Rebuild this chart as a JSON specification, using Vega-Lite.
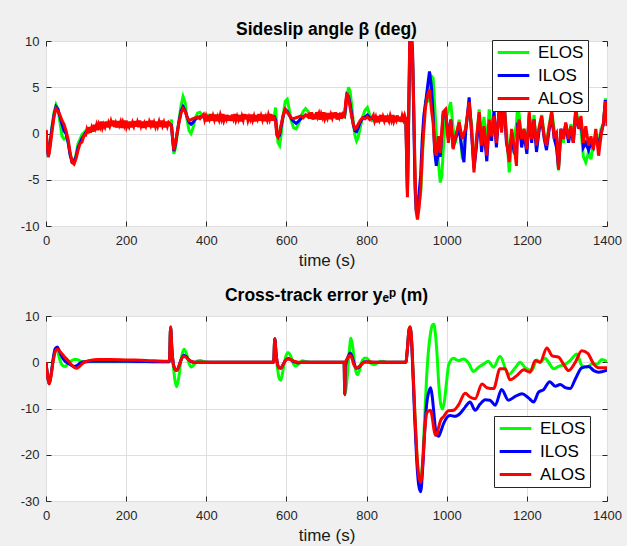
{
  "$schema": "https://vega.github.io/schema/vega-lite/v6.json",
  "background": "#f0f0f0",
  "padding": {"left": 19, "top": 20, "right": 5, "bottom": 5},
  "spacing": 17,
  "config": {
    "view": {"stroke": "#262626", "strokeWidth": 1, "fill": "white"},
    "axis": {
      "domain": false, "grid": true, "gridColor": "#dfdfdf", "tickColor": "#262626",
      "tickSize": -5, "labelFont": "Liberation Sans", "labelFontSize": 13, "labelColor": "#262626",
      "titleFont": "Liberation Sans", "titleFontSize": 17, "titleFontWeight": "normal", "titleColor": "#1a1a1a",
      "labelFlush": false, "labelOverlap": false, "labelExpr": "'' + datum.value"
    },
    "axisX": {"labelPadding": 13, "titlePadding": 5},
    "axisY": {"labelPadding": 12},
    "title": {"font": "Liberation Sans", "fontSize": 17.5, "fontWeight": "bold", "color": "#000000"}
  },
  "resolve": {"scale": {"color": "independent"}, "legend": {"color": "independent"}},
  "vconcat": [
    {
      "width": 561, "height": 185,
      "title": {"text": "Sideslip angle β (deg)", "offset": -3},
      "data": {"values": [
        {"t":0,"E":0.3,"I":0.3,"A":0.4},{"t":3,"E":-1.5,"I":-1.5,"A":-1.2},{"t":6,"E":-2.6,"I":-2.5,"A":-2.5},
        {"t":10,"E":-1.0,"I":-1.2,"A":-1.6},{"t":15,"E":0.8,"I":0.6,"A":0.2},{"t":20,"E":2.3,"I":2.0,"A":1.8},
        {"t":25,"E":3.1,"I":2.9,"A":2.7},{"t":30,"E":2.6,"I":2.6,"A":2.4},{"t":35,"E":1.2,"I":1.8,"A":2.0},
        {"t":40,"E":-0.3,"I":1.0,"A":1.4},{"t":45,"E":-0.6,"I":0.3,"A":1.0},{"t":50,"E":-0.4,"I":0.0,"A":0.3},
        {"t":55,"E":-0.9,"I":-0.9,"A":-0.6},{"t":60,"E":-2.2,"I":-2.3,"A":-2.0},{"t":65,"E":-3.0,"I":-3.1,"A":-3.1},
        {"t":70,"E":-3.0,"I":-3.0,"A":-3.3},{"t":75,"E":-2.3,"I":-2.5,"A":-2.7},{"t":80,"E":-1.1,"I":-1.5,"A":-1.8},
        {"t":85,"E":-0.6,"I":-1.0,"A":-1.1},{"t":90,"E":-0.1,"I":-0.5,"A":-0.9},{"t":95,"E":0.1,"I":-0.2,"A":-0.2},
        {"t":99,"E":0.3,"I":0.1,"A":-0.2},
        {"t":102,"A":0.4},{"t":105,"A":0.0},{"t":108,"A":0.7},{"t":111,"A":0.1},{"t":114,"A":0.6},{"t":117,"A":0.2},
        {"t":120,"E":0.6,"I":0.5,"A":0.95},{"t":123,"A":0.55},{"t":126,"A":0.95},{"t":129,"A":0.35},{"t":132,"A":1.0},
        {"t":135,"A":0.7},{"t":138,"A":1.3},{"t":141,"E":0.9,"I":0.8,"A":0.62},{"t":144,"A":1.0},{"t":147,"A":0.72},
        {"t":150,"A":1.3},{"t":153,"A":0.65},{"t":156,"A":1.15},{"t":159,"A":0.8},{"t":162,"E":1.0,"I":1.0,"A":1.3},
        {"t":165,"A":0.8},{"t":168,"A":1.4},{"t":171,"A":0.7},{"t":174,"A":1.1},{"t":177,"A":0.65},{"t":180,"A":1.35},
        {"t":183,"A":0.9},{"t":186,"A":1.25},{"t":189,"A":0.6},{"t":192,"A":1.2},{"t":195,"A":0.85},{"t":198,"A":1.4},
        {"t":201,"E":1.0,"I":1.0,"A":0.7},{"t":204,"A":1.05},{"t":207,"A":0.75},{"t":210,"A":1.3},{"t":213,"A":0.65},
        {"t":216,"A":1.15},{"t":219,"A":0.8},{"t":222,"A":1.35},{"t":225,"A":0.75},{"t":228,"A":1.2},{"t":231,"A":0.7},
        {"t":234,"A":1.4},{"t":237,"A":0.85},{"t":240,"A":1.3},{"t":243,"A":0.6},{"t":246,"A":1.1},{"t":249,"A":0.8},
        {"t":252,"E":1.0,"I":1.0,"A":1.35},{"t":255,"A":0.7},{"t":258,"A":1.25},{"t":261,"A":0.9},{"t":264,"A":1.4},
        {"t":267,"A":0.65},{"t":270,"A":1.15},{"t":273,"A":0.75},{"t":276,"A":1.3},{"t":279,"A":0.8},{"t":282,"A":1.25},
        {"t":285,"A":0.7},{"t":288,"A":1.4},{"t":291,"A":0.85},{"t":294,"A":1.2},{"t":297,"A":0.65},
        {"t":300,"E":1.0,"I":1.0,"A":1.3},{"t":303,"A":0.8},{"t":306,"A":1.2},
        {"t":310,"E":0.9,"I":1.0,"A":1.0},{"t":313,"E":1.5,"I":0.9,"A":0.8},{"t":316,"E":-0.5,"I":-0.6,"A":-0.5},
        {"t":319,"E":-2.2,"I":-1.9,"A":-1.8},{"t":323,"E":-1.6,"I":-1.2,"A":-1.0},{"t":327,"E":-0.3,"I":0.0,"A":0.0},
        {"t":332,"E":1.5,"I":1.3,"A":1.2},{"t":337,"E":3.0,"I":2.4,"A":2.2},{"t":342,"E":4.0,"I":2.9,"A":2.7},
        {"t":347,"E":3.4,"I":2.5,"A":2.4},{"t":352,"E":1.5,"I":1.8,"A":1.8},{"t":357,"E":0.3,"I":1.2,"A":1.4},
        {"t":362,"E":0.0,"I":1.0,"A":1.5},{"t":367,"E":0.6,"I":1.2,"A":1.6},{"t":372,"E":1.6,"I":1.5,"A":1.7},
        {"t":378,"E":2.2,"I":1.7,"A":1.8},{"t":384,"E":2.3,"I":1.8,"A":1.6},{"t":390,"E":2.0,"I":1.8,"A":1.9},
        {"t":393,"A":2.05},{"t":396,"A":1.45},{"t":399,"A":1.85},{"t":402,"E":2.0,"I":1.8,"A":1.3},{"t":405,"A":2.0},
        {"t":408,"A":1.6},{"t":411,"A":2.1},{"t":414,"A":1.4},{"t":417,"A":1.9},{"t":420,"E":1.9,"I":1.7,"A":1.5},
        {"t":423,"A":2.05},{"t":426,"A":1.35},{"t":429,"A":1.8},{"t":432,"A":1.45},{"t":435,"A":2.0},{"t":438,"A":1.55},
        {"t":441,"A":2.1},{"t":444,"A":1.4},{"t":447,"A":1.75},{"t":450,"A":1.5},{"t":453,"A":2.0},{"t":456,"A":1.4},
        {"t":459,"E":1.8,"I":1.7,"A":1.9},{"t":462,"A":1.35},{"t":465,"A":2.05},{"t":468,"A":1.6},{"t":471,"A":2.1},
        {"t":474,"A":1.45},{"t":477,"A":1.85},{"t":480,"A":1.5},{"t":483,"A":2.0},{"t":486,"A":1.3},{"t":489,"A":1.85},
        {"t":492,"A":1.45},{"t":495,"A":2.1},{"t":498,"A":1.55},{"t":501,"E":1.7,"I":1.7,"A":2.05},{"t":504,"A":1.4},
        {"t":507,"A":1.8},{"t":510,"A":1.5},{"t":513,"A":2.05},{"t":516,"A":1.45},{"t":519,"A":1.85},{"t":522,"A":1.3},
        {"t":525,"A":2.0},{"t":528,"A":1.6},{"t":531,"A":2.1},{"t":534,"A":1.4},{"t":537,"A":1.9},
        {"t":540,"E":1.7,"I":1.7,"A":1.5},{"t":543,"A":2.05},{"t":546,"A":1.35},{"t":549,"A":1.8},{"t":552,"A":1.45},
        {"t":555,"A":2.0},{"t":558,"A":1.55},{"t":561,"A":2.1},{"t":564,"E":1.7,"I":1.7,"A":1.4},{"t":567,"A":1.8},
        {"t":570,"E":2.0,"I":1.8,"A":1.7},{"t":573,"E":2.8,"I":1.5,"A":1.2},{"t":576,"E":0.5,"I":0.0,"A":-0.2},
        {"t":579,"E":-1.0,"I":-0.3,"A":-0.4},{"t":583,"E":-1.3,"I":-0.2,"A":0.2},{"t":587,"E":0.0,"I":0.8,"A":1.0},
        {"t":592,"E":2.0,"I":1.9,"A":2.0},{"t":597,"E":3.5,"I":2.6,"A":2.6},{"t":602,"E":3.7,"I":2.4,"A":2.3},
        {"t":607,"E":2.6,"I":2.0,"A":2.0},{"t":612,"E":1.4,"I":1.6,"A":1.7},{"t":618,"E":0.6,"I":1.3,"A":1.6},
        {"t":624,"E":0.5,"I":1.1,"A":1.7},{"t":630,"E":1.0,"I":1.3,"A":1.8},{"t":636,"E":1.8,"I":1.6,"A":1.9},
        {"t":642,"E":2.4,"I":1.8,"A":1.7},{"t":648,"E":2.7,"I":2.0,"A":2.0},{"t":654,"E":2.4,"I":1.9,"A":1.8},
        {"t":657,"A":2.25},{"t":660,"E":2.0,"I":1.9,"A":1.6},{"t":663,"A":2.3},{"t":666,"A":1.5},{"t":669,"A":2.1},
        {"t":672,"A":1.55},{"t":675,"A":2.3},{"t":678,"A":1.8},{"t":681,"A":2.15},{"t":684,"A":1.5},{"t":687,"A":2.1},
        {"t":690,"A":1.75},{"t":693,"A":2.3},{"t":696,"A":1.6},{"t":699,"E":1.9,"I":1.9,"A":1.95},{"t":702,"A":1.65},
        {"t":705,"A":2.2},{"t":708,"A":1.55},{"t":711,"A":2.05},{"t":714,"A":1.7},{"t":717,"A":2.25},{"t":720,"A":1.65},
        {"t":723,"A":2.3},{"t":726,"A":1.5},{"t":729,"A":2.2},{"t":732,"A":1.8},{"t":735,"A":2.25},{"t":738,"A":1.6},
        {"t":741,"E":1.9,"I":1.9,"A":2.1},
        {"t":745,"E":1.8,"I":1.9,"A":1.9},{"t":748,"E":2.5,"I":3.0,"A":3.5},{"t":751,"E":4.0,"I":4.2,"A":4.4},
        {"t":755,"E":5.0,"I":4.0,"A":3.8},{"t":759,"E":4.5,"I":3.2,"A":2.8},{"t":763,"E":3.0,"I":2.0,"A":1.8},
        {"t":767,"E":1.2,"I":0.9,"A":1.0},{"t":771,"E":-0.2,"I":0.3,"A":0.5},{"t":775,"E":-0.8,"I":0.2,"A":0.6},
        {"t":779,"E":-0.4,"I":0.6,"A":1.0},{"t":784,"E":0.6,"I":1.2,"A":1.4},{"t":790,"E":1.8,"I":1.6,"A":1.7},
        {"t":796,"E":2.5,"I":1.8,"A":1.6},{"t":802,"E":2.8,"I":2.0,"A":1.8},{"t":808,"E":2.0,"I":1.7,"A":1.5},
        {"t":814,"E":1.4,"I":1.6,"A":1.7},
        {"t":817,"A":1.95},{"t":820,"A":1.35},{"t":823,"A":1.75},{"t":826,"A":1.2},{"t":829,"E":1.6,"I":1.6,"A":1.9},
        {"t":832,"A":1.5},{"t":835,"A":2.0},{"t":838,"A":1.3},{"t":841,"A":1.8},{"t":844,"A":1.4},{"t":847,"A":1.95},
        {"t":850,"A":1.25},{"t":853,"A":1.7},{"t":856,"A":1.35},{"t":859,"E":1.6,"I":1.6,"A":1.9},{"t":862,"A":1.45},
        {"t":865,"A":2.0},{"t":868,"A":1.3},{"t":871,"A":1.65},{"t":874,"A":1.4},{"t":877,"A":1.95},{"t":880,"A":1.3},
        {"t":883,"A":1.8},{"t":886,"A":1.25},{"t":889,"A":1.9},{"t":892,"A":1.5},{"t":895,"A":1.95},
        {"t":898,"E":1.6,"I":1.6,"A":1.5},{"t":900,"E":-2.0,"I":-2.5,"A":-3.0},{"t":902,"E":-6.0,"I":-6.5,"A":-6.9},
        {"t":905,"E":1.0,"I":1.5,"A":2.0},{"t":908,"E":9.0,"I":10.5,"A":11.0},{"t":912,"E":10.0,"I":11.0,"A":11.0},
        {"t":915,"E":7.5,"I":8.5,"A":8.0},{"t":918,"E":3.0,"I":1.0,"A":2.0},{"t":921,"E":-5.0,"I":-6.0,"A":-4.0},
        {"t":924,"E":-8.2,"I":-8.4,"A":-8.5},{"t":927,"E":-8.5,"I":-8.0,"A":-9.3},{"t":931,"E":-7.5,"I":-6.5,"A":-8.0},
        {"t":935,"E":-6.5,"I":-4.5,"A":-6.0},{"t":939,"E":-3.0,"I":-0.5,"A":-2.0},{"t":943,"E":1.0,"I":2.0,"A":0.5},
        {"t":947,"E":3.5,"I":3.2,"A":2.8},{"t":952,"E":3.5,"I":5.0,"A":4.1},{"t":957,"E":4.0,"I":6.7,"A":4.8},
        {"t":962,"E":6.2,"I":5.0,"A":2.5},{"t":966,"E":6.0,"I":2.0,"A":1.2},{"t":970,"E":3.0,"I":-2.0,"A":-1.5},
        {"t":974,"E":0.0,"I":-3.5,"A":-2.4},{"t":979,"E":-3.0,"I":-2.0,"A":-0.3},{"t":984,"E":-5.3,"I":-2.5,"A":-2.1},
        {"t":988,"E":-4.5,"I":0.0,"A":0.5},{"t":991,"E":-2.0,"I":2.0,"A":2.3},{"t":997,"E":1.5,"I":2.4,"A":2.6},
        {"t":1004,"E":2.5,"I":-0.5,"A":-1.0},{"t":1010,"E":3.4,"I":1.5,"A":1.5},{"t":1016,"E":0.5,"I":-1.5,"A":-1.7},
        {"t":1022,"E":-1.0,"I":-0.5,"A":-0.3},{"t":1031,"E":1.5,"I":0.5,"A":1.2},{"t":1039,"E":-2.8,"I":-2.0,"A":-0.6},
        {"t":1043,"E":-1.5,"I":-3.1,"A":0.0},{"t":1047,"E":0.5,"I":0.0,"A":0.5},{"t":1056,"E":3.0,"I":3.9,"A":3.4},
        {"t":1062,"E":1.0,"I":0.0,"A":0.5},{"t":1068,"E":-3.5,"I":-3.8,"A":-4.2},{"t":1074,"E":-1.0,"I":-1.5,"A":-0.6},
        {"t":1081,"E":2.6,"I":2.0,"A":2.3},{"t":1087,"E":-0.5,"I":-2.0,"A":-1.3},{"t":1093,"E":1.8,"I":0.5,"A":0.8},
        {"t":1100,"E":-1.5,"I":-3.0,"A":-2.4},{"t":1106,"E":2.6,"I":1.0,"A":1.5},{"t":1112,"E":0.5,"I":-0.8,"A":-0.3},
        {"t":1118,"E":1.5,"I":2.5,"A":1.9},{"t":1124,"E":-0.5,"I":-1.5,"A":-1.0},{"t":1131,"E":2.0,"I":2.9,"A":2.6},
        {"t":1137,"E":1.0,"I":0.5,"A":0.1},{"t":1143,"E":3.0,"I":3.5,"A":3.7},{"t":1149,"E":0.5,"I":-1.0,"A":-0.6},
        {"t":1156,"E":-4.2,"I":-2.5,"A":-3.1},{"t":1162,"E":-1.0,"I":0.0,"A":0.5},{"t":1168,"E":-0.5,"I":-2.0,"A":-1.3},
        {"t":1174,"E":1.0,"I":-2.5,"A":-3.5},{"t":1177,"E":3.0,"I":1.0,"A":0.5},{"t":1181,"E":2.0,"I":1.0,"A":1.5},
        {"t":1187,"E":-1.0,"I":-1.5,"A":-0.6},{"t":1193,"E":0.5,"I":0.0,"A":0.5},{"t":1200,"E":-1.0,"I":-2.2,"A":-1.7},
        {"t":1206,"E":1.5,"I":2.0,"A":2.3},{"t":1212,"E":-0.5,"I":-1.0,"A":-0.6},{"t":1218,"E":2.0,"I":1.5,"A":1.5},
        {"t":1224,"E":-1.5,"I":-2.0,"A":-1.3},{"t":1231,"E":0.5,"I":0.5,"A":0.8},{"t":1237,"E":2.0,"I":1.5,"A":1.9},
        {"t":1243,"E":0.0,"I":-0.5,"A":-0.3},{"t":1249,"E":-1.0,"I":-1.8,"A":-1.3},{"t":1256,"E":1.0,"I":0.5,"A":0.8},
        {"t":1262,"E":2.5,"I":2.0,"A":2.3},{"t":1268,"E":0.5,"I":-0.5,"A":-0.3},{"t":1274,"E":-1.0,"I":-1.5,"A":0.1},
        {"t":1279,"E":-4.0,"I":-3.7,"A":-3.9},{"t":1285,"E":0.0,"I":0.5,"A":0.5},{"t":1291,"E":-1.0,"I":-0.5,"A":-0.6},
        {"t":1297,"E":1.0,"I":1.0,"A":1.2},{"t":1304,"E":-0.5,"I":-1.0,"A":-0.6},{"t":1310,"E":1.0,"I":0.5,"A":0.8},
        {"t":1316,"E":-0.5,"I":-1.0,"A":-1.0},{"t":1322,"E":2.8,"I":2.3,"A":2.6},{"t":1329,"E":1.0,"I":0.5,"A":0.5},
        {"t":1335,"E":0.5,"I":1.5,"A":1.9},{"t":1341,"E":-2.5,"I":-1.5,"A":-1.0},{"t":1347,"E":-3.1,"I":-1.0,"A":0.8},
        {"t":1354,"E":-2.0,"I":-1.8,"A":-1.3},{"t":1360,"E":-2.8,"I":-1.0,"A":-0.3},{"t":1366,"E":-1.0,"I":-1.5,"A":-1.7},
        {"t":1372,"E":-0.5,"I":0.0,"A":0.5},{"t":1379,"E":-1.0,"I":-1.5,"A":-2.4},{"t":1385,"E":0.5,"I":0.0,"A":-0.3},
        {"t":1391,"E":1.0,"I":1.0,"A":1.2},{"t":1396,"E":3.8,"I":3.6,"A":3.5},{"t":1400,"E":1.5,"I":1.2,"A":0.8}
      ]},
      "encoding": {
        "x": {"field": "t", "type": "quantitative", "scale": {"domain": [0, 1400], "nice": false},
              "axis": {"values": [0,200,400,600,800,1000,1200,1400], "title": "time (s)"}}
      },
      "resolve": {"axis": {"x": "independent", "y": "independent"}},
      "layer": [
        {"mark": {"type": "line", "strokeWidth": 3, "clip": true, "invalid": "filter"},
         "encoding": {
           "y": {"field": "E", "type": "quantitative", "scale": {"domain": [-10, 10], "nice": false}, "axis": {"values": [-10,-5,0,5,10], "title": null}},
           "color": {"datum": "ELOS", "type": "nominal",
             "scale": {"domain": ["ELOS","ILOS","ALOS"], "range": ["#00ff00","#0000ff","#ff0000"]},
             "legend": {"title": null, "orient": "none", "legendX": 446, "legendY": -1, "symbolType": "stroke",
               "symbolSize": 1000, "symbolStrokeWidth": 3, "labelFont": "Liberation Sans", "labelFontSize": 17,
               "labelColor": "#000000", "clipHeight": 17, "rowPadding": 5, "padding": 4, "labelOffset": 7,
               "columnPadding": 0, "strokeColor": "#262626", "fillColor": "#ffffff"}}
         }},
        {"mark": {"type": "line", "strokeWidth": 3, "clip": true, "invalid": "filter"},
         "encoding": {
           "x": {"field": "t", "type": "quantitative", "axis": null},
           "y": {"field": "I", "type": "quantitative", "axis": null},
           "color": {"datum": "ILOS", "type": "nominal"}
         }},
        {"mark": {"type": "line", "strokeWidth": 3, "clip": true, "invalid": "filter"},
         "encoding": {
           "x": {"field": "t", "type": "quantitative", "axis": {"orient": "top", "values": [0,200,400,600,800,1000,1200,1400], "labels": false, "grid": false, "title": null}},
           "y": {"field": "A", "type": "quantitative", "axis": {"orient": "right", "values": [-10,-5,0,5,10], "labels": false, "grid": false, "title": null}},
           "color": {"datum": "ALOS", "type": "nominal"}
         }}
      ]
    },
    {
      "width": 561, "height": 185,
      "title": {"text": "Cross-track error yₑᵖ (m)", "offset": 6},
      "data": {"values": [
        {"t":0,"E":0,"I":0,"A":0},{"t":4,"E":-3.0,"I":-3.0,"A":-3.0},{"t":8,"E":-4.7,"I":-4.6,"A":-4.7},
        {"t":13,"E":-2.5,"I":-2.5,"A":-2.7},{"t":18,"E":0.5,"I":0.8,"A":0.3},{"t":23,"E":2.5,"I":2.9,"A":2.3},
        {"t":28,"E":2.6,"I":3.3,"A":2.8},{"t":33,"E":1.0,"I":2.5,"A":2.5},{"t":38,"E":-0.3,"I":1.5,"A":2.0},
        {"t":43,"E":-0.8,"I":0.7,"A":1.5},{"t":48,"E":-0.9,"I":0.2,"A":1.0},{"t":55,"E":-0.3,"I":-0.2,"A":0.4},
        {"t":62,"E":0.2,"I":-0.6,"A":-0.4},{"t":70,"E":0.6,"I":-0.9,"A":-1.1},{"t":77,"E":0.6,"I":-0.7,"A":-1.3},
        {"t":85,"E":0.3,"I":-0.2,"A":-0.8},{"t":95,"E":0.0,"I":0.1,"A":0.0},{"t":110,"E":0.1,"I":0.2,"A":0.4},
        {"t":130,"E":0.1,"I":0.2,"A":0.6},{"t":160,"E":0.1,"I":0.2,"A":0.6},{"t":200,"E":0.1,"I":0.2,"A":0.5},
        {"t":250,"E":0.1,"I":0.15,"A":0.4},{"t":300,"E":0.1,"I":0.1,"A":0.2},{"t":308,"E":0.1,"I":0.1,"A":0.2},
        {"t":311,"E":7.5,"I":7.5,"A":7.7},{"t":314,"E":3.0,"I":3.0,"A":3.0},{"t":318,"E":-1.0,"I":-0.5,"A":-0.5},
        {"t":322,"E":-4.0,"I":-1.5,"A":-1.5},{"t":326,"E":-5.3,"I":-1.8,"A":-1.8},{"t":331,"E":-3.5,"I":-1.0,"A":-1.0},
        {"t":337,"E":0.5,"I":0.5,"A":0.5},{"t":344,"E":2.8,"I":1.5,"A":1.3},{"t":350,"E":2.0,"I":1.2,"A":1.0},
        {"t":357,"E":-0.3,"I":0.5,"A":0.5},{"t":363,"E":-1.0,"I":0.1,"A":0.2},{"t":370,"E":-0.5,"I":0.0,"A":0.0},
        {"t":378,"E":0.3,"I":0.0,"A":0.0},{"t":385,"E":0.4,"I":0.0,"A":0.0},{"t":395,"E":0.1,"I":0.0,"A":0.0},
        {"t":410,"E":0.0,"I":0.0,"A":0.0},{"t":568,"E":0.0,"I":0.0,"A":0.0},
        {"t":571,"E":5.1,"I":5.1,"A":5.1},{"t":574,"E":2.0,"I":2.0,"A":2.0},{"t":578,"E":-1.5,"I":-0.5,"A":-0.5},
        {"t":582,"E":-3.5,"I":-1.2,"A":-1.2},{"t":586,"E":-3.9,"I":-1.3,"A":-1.3},{"t":591,"E":-2.0,"I":-0.6,"A":-0.6},
        {"t":597,"E":0.8,"I":0.3,"A":0.3},{"t":604,"E":2.1,"I":0.8,"A":0.7},{"t":610,"E":1.5,"I":0.6,"A":0.6},
        {"t":617,"E":-0.3,"I":0.2,"A":0.3},{"t":623,"E":-0.8,"I":0.0,"A":0.1},{"t":630,"E":-0.4,"I":-0.1,"A":0.0},
        {"t":640,"E":0.3,"I":0.0,"A":0.0},{"t":650,"E":0.1,"I":0.0,"A":0.0},{"t":660,"E":0.0,"I":0.0,"A":0.0},
        {"t":744,"E":0.0,"I":0.0,"A":0.0},{"t":745.5,"E":-7.0,"I":-7.0,"A":-7.0},
        {"t":747,"I":-1.0,"A":0.0},{"t":752,"E":-3.0,"A":0.8},{"t":753,"I":1.0},{"t":757,"E":2.5},
        {"t":758,"A":1.5},{"t":759,"I":2.0},{"t":761,"E":5.2},{"t":763,"A":1.0},{"t":764,"I":1.2},{"t":766,"E":3.0},
        {"t":768,"A":-0.5},{"t":769,"I":-0.3},{"t":771,"E":-1.0},{"t":774,"A":-1.2},{"t":775,"I":-1.3},
        {"t":777,"E":-2.7},{"t":780,"A":-1.0},{"t":781,"I":-1.1},{"t":783,"E":-1.5},{"t":787,"A":-0.4},
        {"t":788,"I":-0.4},{"t":790,"E":0.5},{"t":795,"A":0.0},{"t":796,"I":0.1},{"t":798,"E":0.9},
        {"t":805,"E":0.5,"A":0.1},{"t":810,"I":0.0},{"t":812,"E":-0.3},{"t":820,"E":-0.5,"A":0.0},
        {"t":830,"E":0.0},{"t":840,"E":0.2},{"t":850,"E":0.0},
        {"t":898,"E":0.0,"I":0.0,"A":0.0},{"t":902,"E":3.0,"I":3.0,"A":3.0},{"t":906,"E":7.0,"I":7.0,"A":7.2},
        {"t":909,"E":7.6,"I":7.4,"A":7.7},{"t":912,"E":5.0,"I":5.0,"A":5.5},{"t":916,"E":-2.0,"I":-3.0,"A":-2.0},
        {"t":920,"E":-10,"I":-12,"A":-10},{"t":925,"E":-19,"I":-21,"A":-19},{"t":930,"E":-24.5,"I":-26.5,"A":-24.5},
        {"t":935,"E":-25.5,"I":-28,"A":-26},{"t":940,"E":-21,"I":-23,"A":-22},{"t":945,"E":-12,"I":-15,"A":-15},
        {"t":950,"E":-3,"I":-9,"A":-11},{"t":955,"E":3.0,"I":-6.5,"A":-10.5},{"t":960,"E":6.5,"I":-5.5,"A":-10.4},
        {"t":964,"E":8.0,"I":-7.5,"A":-12},{"t":968,"E":8.2,"I":-11,"A":-14.5},{"t":972,"E":6.0,"I":-14.5,"A":-15.8},
        {"t":976,"E":1.5,"I":-15.8,"A":-15.5},{"t":980,"E":-4.5,"I":-16,"A":-14},{"t":985,"E":-9.0,"I":-15,"A":-12.5},
        {"t":990,"E":-10.1},{"t":992,"I":-13.3,"A":-11.8},{"t":995,"E":-8.0},{"t":1000,"E":-4.0},{"t":1004,"A":-10.5},
        {"t":1005,"E":-0.5},{"t":1008,"I":-11.5},{"t":1017,"E":0.86,"A":-10.4},{"t":1021,"I":-11.7},
        {"t":1029,"E":0.36,"A":-9.3},{"t":1033,"I":-11.1},{"t":1042,"E":0.7},{"t":1046,"I":-9.7,"A":-6.7},
        {"t":1054,"E":-0.1},{"t":1058,"I":-8.6,"A":-7.5},{"t":1067,"E":-2.0},{"t":1071,"I":-10.4,"A":-7.9},
        {"t":1079,"E":-1.1},{"t":1083,"I":-9.1},{"t":1088,"A":-4.7},{"t":1092,"E":-0.4},{"t":1096,"I":-8.1},
        {"t":1100,"A":-5.5},{"t":1104,"E":0.2},{"t":1108,"I":-8.2},{"t":1117,"E":-1.1,"A":-5.7},{"t":1121,"I":-9.3},
        {"t":1133,"E":1.3,"A":-1.4},{"t":1137,"I":-5.9},{"t":1146,"A":-1.4},{"t":1154,"E":-2.65,"I":-8.2},
        {"t":1158,"A":-3.8},{"t":1171,"E":-1.2,"I":-7.4},{"t":1175,"A":-2.9},{"t":1183,"E":0.0},{"t":1188,"I":-6.8},
        {"t":1192,"A":-1.6},{"t":1196,"E":-1.2},{"t":1204,"I":-7.7},{"t":1208,"A":-2.15},{"t":1212,"E":-1.8},
        {"t":1217,"I":-8.6},{"t":1221,"A":0.36},{"t":1225,"E":0.5},{"t":1229,"I":-6.5},{"t":1233,"E":0.0,"A":0.0},
        {"t":1242,"I":-5.9},{"t":1246,"E":0.86},{"t":1250,"A":3.1},{"t":1254,"E":0.0},{"t":1257,"I":-4.2},
        {"t":1263,"A":1.4},{"t":1267,"E":-1.4},{"t":1271,"I":-5.2},{"t":1279,"E":-0.9,"A":1.1},{"t":1283,"I":-4.8},
        {"t":1292,"A":-0.5},{"t":1296,"E":-0.4,"I":-5.5},{"t":1304,"A":-1.8},{"t":1308,"E":0.36,"I":-5.7},
        {"t":1321,"I":-3.6,"A":0.0},{"t":1325,"E":1.8},{"t":1337,"E":-0.7,"I":-1.2,"A":2.5},{"t":1350,"E":-1.1},
        {"t":1352,"A":1.9},{"t":1354,"I":-0.9},{"t":1362,"E":-0.4},{"t":1367,"I":-1.8,"A":-0.4},{"t":1375,"E":-0.4},
        {"t":1379,"I":-2.15,"A":-1.2},{"t":1387,"E":0.6},{"t":1400,"E":0.2,"I":-1.7,"A":-1.2}
      ]},
      "encoding": {
        "x": {"field": "t", "type": "quantitative", "scale": {"domain": [0, 1400], "nice": false},
              "axis": {"values": [0,200,400,600,800,1000,1200,1400], "title": "time (s)"}}
      },
      "resolve": {"axis": {"x": "independent", "y": "independent"}},
      "layer": [
        {"mark": {"type": "line", "strokeWidth": 3, "clip": true, "invalid": "filter", "interpolate": "monotone"},
         "encoding": {
           "y": {"field": "E", "type": "quantitative", "scale": {"domain": [-30, 10], "nice": false}, "axis": {"values": [-30,-20,-10,0,10], "title": null}},
           "color": {"datum": "ELOS", "type": "nominal",
             "scale": {"domain": ["ELOS","ILOS","ALOS"], "range": ["#00ff00","#0000ff","#ff0000"]},
             "legend": {"title": null, "orient": "none", "legendX": 448, "legendY": 100, "symbolType": "stroke",
               "symbolSize": 1000, "symbolStrokeWidth": 3, "labelFont": "Liberation Sans", "labelFontSize": 17,
               "labelColor": "#000000", "clipHeight": 17, "rowPadding": 5, "padding": 4, "labelOffset": 7,
               "columnPadding": 0, "strokeColor": "#262626", "fillColor": "#ffffff"}}
         }},
        {"mark": {"type": "line", "strokeWidth": 3, "clip": true, "invalid": "filter", "interpolate": "monotone"},
         "encoding": {
           "x": {"field": "t", "type": "quantitative", "axis": null},
           "y": {"field": "I", "type": "quantitative", "axis": null},
           "color": {"datum": "ILOS", "type": "nominal"}
         }},
        {"mark": {"type": "line", "strokeWidth": 3, "clip": true, "invalid": "filter", "interpolate": "monotone"},
         "encoding": {
           "x": {"field": "t", "type": "quantitative", "axis": {"orient": "top", "values": [0,200,400,600,800,1000,1200,1400], "labels": false, "grid": false, "title": null}},
           "y": {"field": "A", "type": "quantitative", "axis": {"orient": "right", "values": [-30,-20,-10,0,10], "labels": false, "grid": false, "title": null}},
           "color": {"datum": "ALOS", "type": "nominal"}
         }}
      ]
    }
  ]
}
